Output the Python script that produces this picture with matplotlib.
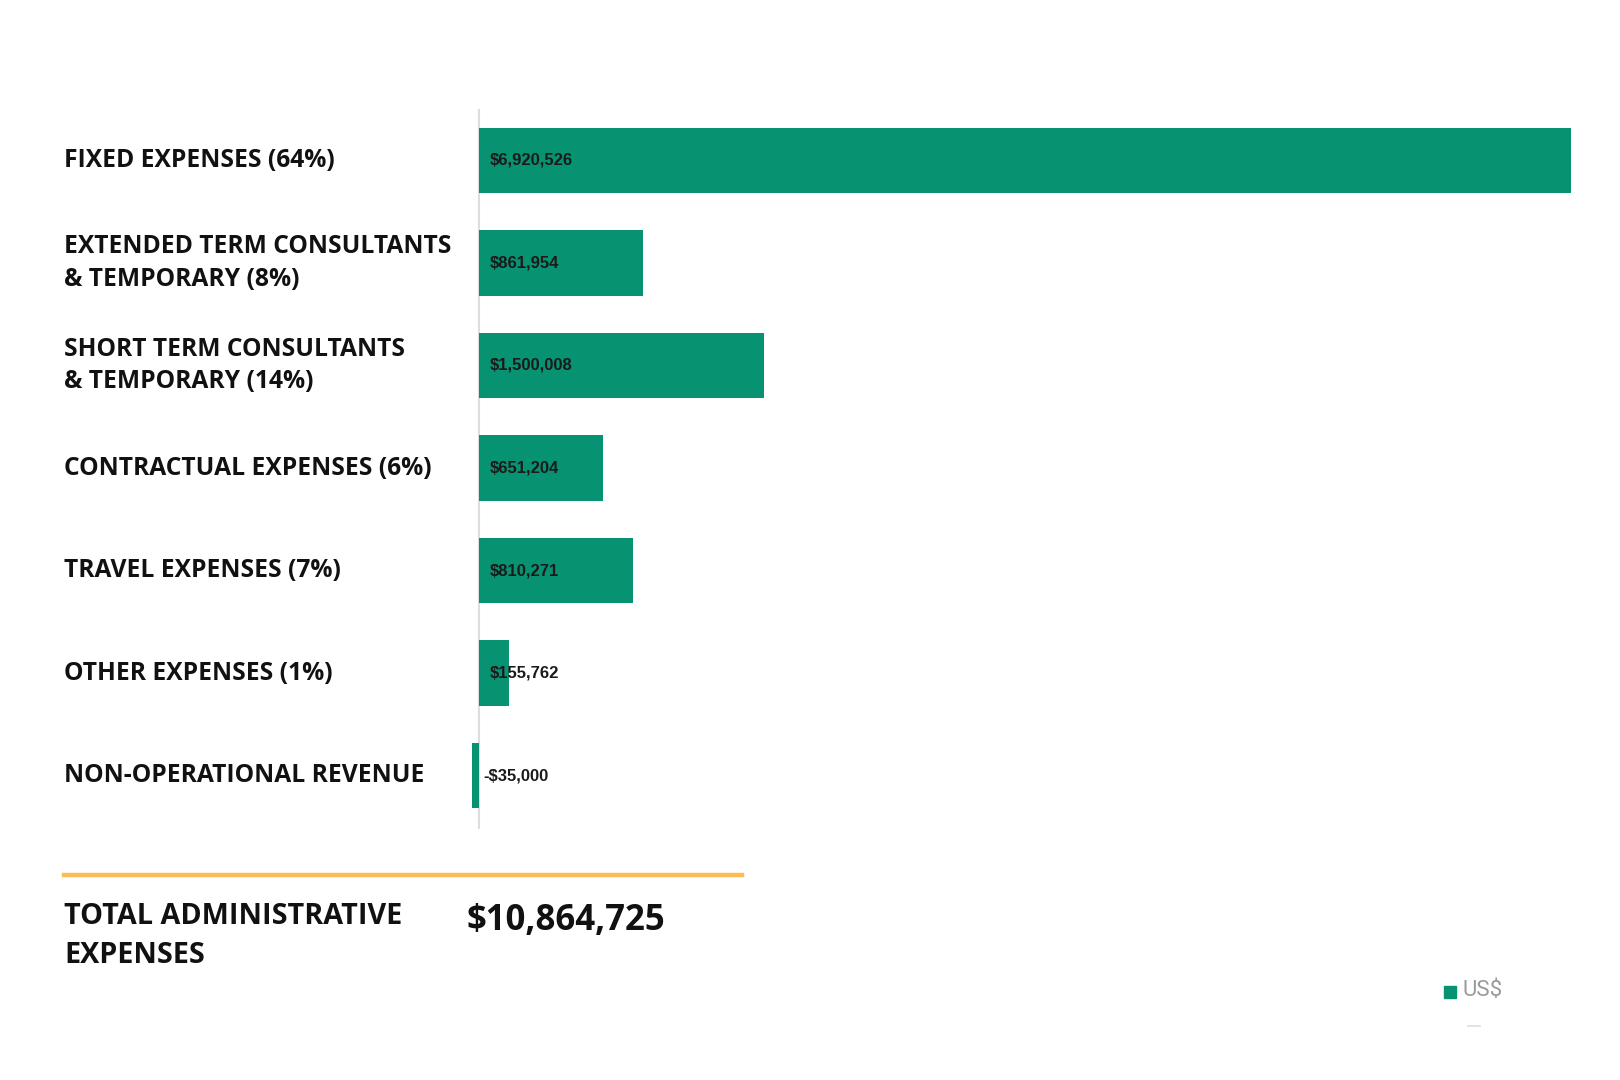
import matplotlib
matplotlib.use("Agg")
import matplotlib.pyplot as plt
from matplotlib.patches import Rectangle

plt.rcParams["font.family"] = ["Open Sans", "DejaVu Sans"]

categories = [
    "FIXED EXPENSES (64%)",
    "EXTENDED TERM CONSULTANTS\n& TEMPORARY (8%)",
    "SHORT TERM CONSULTANTS\n& TEMPORARY (14%)",
    "CONTRACTUAL EXPENSES (6%)",
    "TRAVEL EXPENSES (7%)",
    "OTHER EXPENSES (1%)",
    "NON-OPERATIONAL REVENUE",
]
values = [6920526, 861954, 1500008, 651204, 810271, 155762, -35000]
value_labels = ["$6,920,526", "$861,954", "$1,500,008", "$651,204",
                "$810,271", "$155,762", "-$35,000"]
total_label = "TOTAL ADMINISTRATIVE\nEXPENSES"
total_value = "$10,864,725"
legend_label = "US$"

GREEN = "#079272"
W, H = 1620, 1080

fig = plt.figure(figsize=(16.2, 10.8), dpi=100)
ax = fig.add_axes([0.2605, 0.2324, 0.970 - 0.2605, 0.899 - 0.2324])

ypos = list(range(len(values)))
ax.barh(ypos, values, height=0.64, color=GREEN, zorder=2)
ax.axvline(0, color="#dddddd", lw=1.5, zorder=1)
ax.set_xlim(-300000, 5750000)
ax.set_ylim(6.52, -0.5)
ax.axis("off")

for y, v, t in zip(ypos, values, value_labels):
    dx = 11 if v >= 0 else 4
    ax.annotate(t, xy=(0, y), xytext=(dx * 0.72, 0), textcoords="offset points",
                ha="left", va="center", fontsize=12, fontweight="bold",
                color="#1a1a1a", family=["Liberation Sans", "DejaVu Sans"],
                zorder=3)

# category labels at the left, lined up with the bars
for y, c in zip(ypos, categories):
    _, fy = fig.transFigure.inverted().transform(ax.transData.transform((0, y)))
    fig.text(64 / W, fy, c, ha="left", va="center", fontsize=17.7,
             fontweight="bold", color="#111111", linespacing=1.4)

# total block
fig.add_artist(plt.Line2D([64 / W, 742 / W], [1 - 875 / H, 1 - 875 / H],
                          color="#FDBB55", lw=3.2))
fig.text(64 / W, 1 - 936 / H, total_label, ha="left", va="center",
         fontsize=20.7, fontweight="bold", color="#111111", linespacing=1.42)
fig.text(466 / W, 1 - 921 / H, total_value, ha="left", va="center",
         fontsize=25, fontweight="bold", color="#111111")

# legend
fig.add_artist(Rectangle((1444 / W, 1 - 998 / H), 12 / W, 12 / H,
                         transform=fig.transFigure, color=GREEN))
fig.text(1463 / W, 1 - 991 / H, legend_label, ha="left", va="center",
         fontsize=16, color="#9a9a9a", family=["Roboto", "DejaVu Sans"])
fig.add_artist(plt.Line2D([1468 / W, 1480 / W], [1 - 1026 / H, 1 - 1026 / H],
                          color="#dddddd", lw=1.2))

fig.savefig("out.png", dpi=100, facecolor="white")
